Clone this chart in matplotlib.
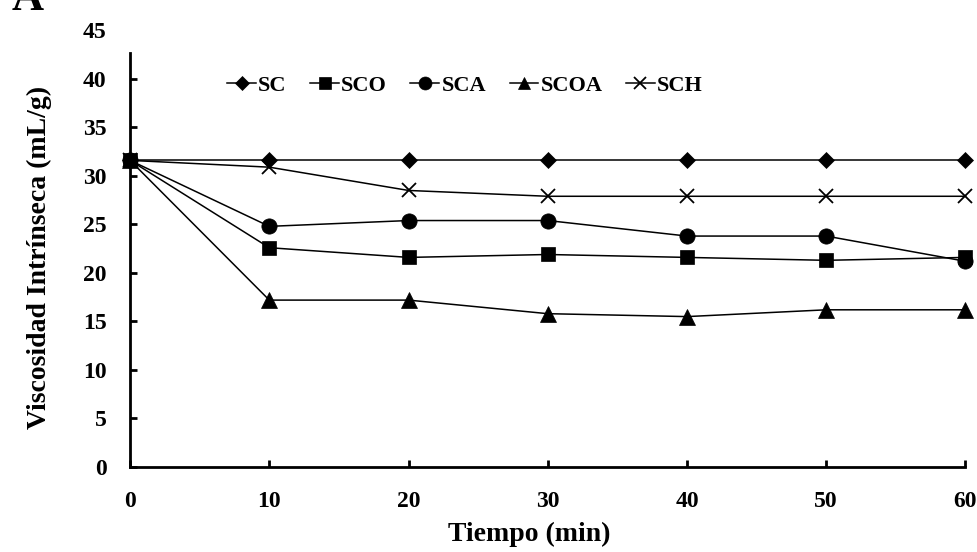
import matplotlib
matplotlib.use("Agg")
import matplotlib.pyplot as plt

tiempo = [0, 10, 20, 30, 40, 50, 60]
sc = [31.6, 31.6, 31.6, 31.6, 31.6, 31.6, 31.6]
sco = [31.6, 22.6, 21.6, 21.9, 21.6, 21.3, 21.6]
sca = [31.6, 24.8, 25.4, 25.4, 23.8, 23.8, 21.2]
scoa = [31.6, 17.2, 17.2, 15.8, 15.5, 16.2, 16.2]
sch = [31.6, 30.9, 28.5, 27.9, 27.9, 27.9, 27.9]
series = [("SC", sc, "D", 8.5), ("SCO", sco, "s", 10.5), ("SCA", sca, "o", 11),
          ("SCOA", scoa, "^", 11), ("SCH", sch, "x", 10)]

plt.rcParams["font.family"] = ["Liberation Serif", "DejaVu Serif"]
plt.rcParams["font.weight"] = "bold"

fig = plt.figure(figsize=(9.78, 5.52), dpi=100)
ax = fig.add_axes([0.133, 0.154, 0.867, 0.791])

for name, vals, mk, ms in series:
    ax.plot(tiempo, vals, "-", color="black", lw=1.1, marker=mk, ms=ms,
            mew=1.3 if mk == "x" else 0.5, label=name, clip_on=False)

ax.set_xlim(0, 60.9)
ax.set_ylim(0, 45)
ax.set_xticks(range(0, 61, 10))
ax.set_yticks(range(0, 46, 5))
for s in ("top", "right"):
    ax.spines[s].set_visible(False)
for s in ("left", "bottom"):
    ax.spines[s].set_linewidth(2)
ax.spines["left"].set_bounds(0, 42.7)
ax.spines["bottom"].set_bounds(0, 60)
ax.tick_params(direction="in", width=2, length=5, labelsize=17)
ax.tick_params(axis="y", pad=17)
ax.tick_params(axis="x", pad=17)
ax.yaxis.get_major_ticks()[-1].tick1line.set_visible(False)
for lab in ax.get_xticklabels() + ax.get_yticklabels():
    lab.set_fontweight("bold")

ax.set_xlabel("Tiempo (min)", fontsize=20, fontweight="bold")
ax.xaxis.set_label_coords((529 - 130) / 848, -0.125)
ax.set_ylabel("Viscosidad Intrínseca (mL/g)", fontsize=20, fontweight="bold")
ax.yaxis.set_label_coords(-0.092, 0.479)

ax.legend(loc="center", bbox_to_anchor=(0.395, 0.873), ncol=5, frameon=False,
          handlelength=1.3, handletextpad=0.1, columnspacing=1.05, markerscale=0.85,
          prop={"weight": "bold", "size": 16})

fig.text(0.012, 1 - 10 / 552, "A", fontsize=32, fontweight="bold", va="baseline")

fig.savefig("out.png", dpi=100)
